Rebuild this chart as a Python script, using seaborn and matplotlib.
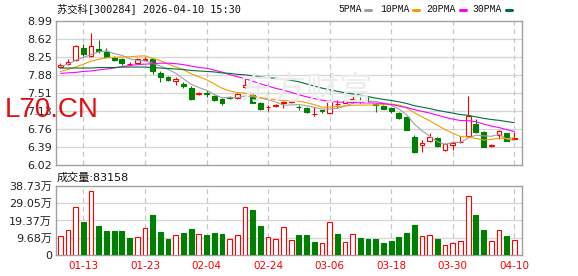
import numpy as np
import pandas as pd
import matplotlib
matplotlib.use("Agg")
import matplotlib.pyplot as plt
import seaborn as sns

# ---------------- data ----------------
dates = ["01-08", "01-09", "01-12", "01-13", "01-14", "01-15", "01-16", "01-19", "01-20", "01-21",
         "01-22", "01-23", "01-26", "01-27", "01-28", "01-29", "01-30", "02-02", "02-03", "02-04",
         "02-05", "02-06", "02-09", "02-10", "02-11", "02-12", "02-13", "02-24", "02-25", "02-26",
         "02-27", "03-02", "03-03", "03-04", "03-05", "03-06", "03-09", "03-10", "03-11", "03-12",
         "03-13", "03-16", "03-17", "03-18", "03-19", "03-20", "03-23", "03-24", "03-25", "03-26",
         "03-27", "03-30", "03-31", "04-01", "04-02", "04-03", "04-07", "04-08", "04-09", "04-10"]

open_ = [8.05, 8.11, 8.18, 8.44, 8.27, 8.41, 8.36, 8.23, 8.20, 8.10, 8.13, 8.19, 8.20, 7.91, 7.84,
         7.75, 7.70, 7.61, 7.48, 7.50, 7.45, 7.38, 7.42, 7.41, 7.63, 7.47, 7.29, 7.21, 7.24, 7.30,
         7.31, 7.22, 7.20, 7.07, 7.15, 7.10, 7.27, 7.30, 7.33, 7.37, 7.34, 7.28, 7.24, 7.20, 7.10,
         7.01, 6.60, 6.43, 6.52, 6.57, 6.32, 6.43, 6.49, 6.62, 6.87, 6.71, 6.41, 6.63, 6.67, 6.56]
close = [8.09, 8.14, 8.47, 8.31, 8.47, 8.37, 8.25, 8.19, 8.13, 8.11, 8.20, 8.21, 7.95, 7.84, 7.77,
         7.79, 7.64, 7.38, 7.51, 7.49, 7.36, 7.30, 7.41, 7.48, 7.66, 7.30, 7.17, 7.22, 7.25, 7.32,
         7.33, 7.21, 7.11, 7.08, 7.13, 7.35, 7.28, 7.33, 7.38, 7.36, 7.33, 7.25, 7.18, 7.14, 6.98,
         6.74, 6.29, 6.48, 6.59, 6.41, 6.46, 6.48, 6.50, 7.03, 6.70, 6.40, 6.43, 6.72, 6.52, 6.58]
high = [8.12, 8.20, 8.49, 8.52, 8.74, 8.60, 8.43, 8.27, 8.23, 8.15, 8.22, 8.24, 8.22, 7.95, 7.86,
        7.84, 7.74, 7.64, 7.53, 7.57, 7.46, 7.40, 7.44, 7.50, 7.82, 7.49, 7.31, 7.26, 7.28, 7.33,
        7.35, 7.26, 7.22, 7.21, 7.16, 7.37, 7.36, 7.34, 7.44, 7.43, 7.43, 7.29, 7.25, 7.22, 7.12,
        7.04, 6.64, 6.53, 6.67, 6.60, 6.48, 6.52, 6.62, 7.44, 6.96, 6.73, 6.45, 6.74, 6.68, 6.71]
low = [8.02, 8.09, 8.16, 8.27, 8.25, 8.34, 8.24, 8.17, 8.09, 8.08, 8.12, 8.16, 7.89, 7.74, 7.76,
       7.66, 7.60, 7.36, 7.47, 7.43, 7.35, 7.26, 7.39, 7.39, 7.61, 7.29, 7.16, 7.14, 7.22, 7.19,
       7.30, 7.15, 7.09, 7.03, 7.10, 7.08, 7.19, 7.29, 7.29, 7.30, 7.32, 7.12, 7.17, 7.10, 6.96,
       6.74, 6.27, 6.29, 6.50, 6.39, 6.31, 6.33, 6.48, 6.60, 6.69, 6.39, 6.39, 6.56, 6.51, 6.55]
volume_wan = [10.8, 14.2, 26.8, 18.6, 35.9, 16.4, 13.6, 13.6, 13.6, 9.7,
              10.1, 15.1, 22.5, 13.0, 9.1, 11.2, 12.5, 14.7, 11.7, 11.2,
              12.5, 11.9, 8.9, 11.2, 26.8, 25.3, 16.4, 10.1, 9.1, 15.6,
              8.6, 11.4, 11.4, 7.4, 6.7, 18.6, 11.9, 7.4, 11.9, 9.7,
              9.1, 8.75, 6.9, 8.0, 10.2, 12.5, 16.9, 10.8, 11.2, 8.75,
              5.6, 6.9, 8.0, 33.1, 22.5, 14.3, 8.0, 14.15, 10.8, 8.3158]

# moving-average values before enough history is visible
ma5_head = [8.05, 8.10, 8.18, 8.24]
ma10_head = [7.95, 7.99, 8.04, 8.10, 8.16, 8.20, 8.23, 8.24, 8.25]
ma20_head = [7.91, 7.92, 7.93, 7.95, 7.96, 7.98, 8.00, 8.02, 8.05, 8.07, 8.09, 8.10, 8.11, 8.12,
             8.12, 8.11, 8.09, 8.06, 8.03]
ma30_head = [8.02, 8.02, 8.02, 8.02, 8.02, 8.03, 8.03, 8.03, 8.04, 8.04, 8.04, 8.04, 8.03, 8.02,
             8.01, 8.00, 7.99, 7.97, 7.96, 7.95, 7.94, 7.92, 7.91, 7.89, 7.88, 7.86, 7.84, 7.82, 7.81]

price_ticks = [6.02, 6.39, 6.76, 7.13, 7.51, 7.88, 8.25, 8.62, 8.99]
vol_ticks = [0, 9.68, 19.37, 29.05, 38.73]
vol_tick_labels = ["0", "9.68万", "19.37万", "29.05万", "38.73万"]
x_tick_dates = ["01-13", "01-23", "02-04", "02-24", "03-06", "03-18", "03-30", "04-10"]

title = "苏交科[300284] 2026-04-10 15:30"
vol_title = "成交量:83158"
ma_names = ["5PMA", "10PMA", "20PMA", "30PMA"]

# ---------------- styling ----------------
RED = "#ff0000"
GREEN = "#008000"
MA_COLORS = ["#a0a0a0", "#f0a000", "#ff00ff", "#00703c"]
GRID = "#d6d6d6"
SPINE = "#a0a0a0"

sns.set_theme(style="white")
plt.rcParams["font.family"] = ["DejaVu Sans", "Noto Sans CJK SC"]

W, H = 578, 276
fig = plt.figure(figsize=(W / 100, H / 100), dpi=100)
fig.patch.set_facecolor("white")


def rect(l, t, r, b):
    return [l / W, 1 - b / H, (r - l) / W, (b - t) / H]


axp = fig.add_axes(rect(56, 21, 522, 165))
axv = fig.add_axes(rect(56, 186, 522, 255))

n = len(dates)
df = pd.DataFrame({"idx": np.arange(n), "date": dates, "open": open_, "close": close,
                   "high": high, "low": low, "vol": volume_wan})
df["up"] = df["close"] >= df["open"]
prev = df["close"].shift(1).fillna(df["open"])
df["vol_up"] = df["close"] >= prev


def ma(period, head):
    m = df["close"].rolling(period).mean().to_numpy()
    m[: len(head)] = head
    return m


for p, h in zip([5, 10, 20, 30], [ma5_head, ma10_head, ma20_head, ma30_head]):
    df[f"ma{p}"] = ma(p, h)

XL = (-0.56, n + 0.0)

# watermark
fig.text(240 / W, 1 - 90 / H, "东方财富", color="#ececec", fontsize=24,
         family=["Noto Sans CJK SC"], va="center", ha="left", zorder=0)

# ---------------- price panel ----------------
for k in range(n):
    r = df.iloc[k]
    col = RED if r.up else GREEN
    lo_b, hi_b = min(r.open, r.close), max(r.open, r.close)
    axp.vlines(k, hi_b, r.high, colors=col, linewidth=0.8, zorder=3)
    axp.vlines(k, r.low, lo_b, colors=col, linewidth=0.8, zorder=3)
hgt = np.maximum(np.abs(df["close"] - df["open"]), 0.004)
bot = np.minimum(df["open"], df["close"])
axp.bar(df["idx"], hgt, bottom=bot, width=0.62,
        facecolor=np.where(df["up"], "white", GREEN),
        edgecolor=np.where(df["up"], RED, GREEN), linewidth=0.8, zorder=4)

for p, c in zip([5, 10, 20, 30], MA_COLORS):
    sns.lineplot(data=df, x="idx", y=f"ma{p}", ax=axp, color=c, linewidth=0.8,
                 legend=False, zorder=5)

axp.set_xlim(*XL)
axp.set_ylim(6.02, 8.99)
axp.set_yticks(price_ticks)
axp.set_yticklabels([f"{v:.2f}" for v in price_ticks])
axp.set_xticks([])
axp.set_xlabel("")
axp.set_ylabel("")
axp.grid(False)
for v in price_ticks[1:-1]:
    axp.axhline(v, color=GRID, linewidth=0.9, zorder=1)

tick_idx = [dates.index(d) for d in x_tick_dates]
for t in tick_idx:
    axp.axvline(t, color="#c8c8c8", linewidth=0.9, linestyle=(0, (4, 3)), zorder=1)
    axv.axvline(t, color="#c8c8c8", linewidth=0.9, linestyle=(0, (4, 3)), zorder=1)

# ---------------- volume panel ----------------
sns.barplot(data=df, x="idx", y="vol", native_scale=True, width=0.62, ax=axv,
            color=RED, errorbar=None, zorder=3)
for patch, upv in zip(axv.patches, df["vol_up"]):
    if upv:
        patch.set_facecolor("white")
        patch.set_edgecolor(RED)
    else:
        patch.set_facecolor(GREEN)
        patch.set_edgecolor(GREEN)
    patch.set_linewidth(0.8)

axv.set_xlim(*XL)
axv.set_ylim(0, 38.73)
axv.set_yticks(vol_ticks)
axv.set_yticklabels(vol_tick_labels)
axv.set_xticks(tick_idx)
axv.set_xticklabels(x_tick_dates)
axv.set_xlabel("")
axv.set_ylabel("")
axv.grid(False)
for v in vol_ticks[1:-1]:
    axv.axhline(v, color=GRID, linewidth=0.9, zorder=1)

for ax in (axp, axv):
    ax.set_facecolor("white")
    for s in ax.spines.values():
        s.set_visible(True)
        s.set_color(SPINE)
        s.set_linewidth(1.0)
    ax.tick_params(axis="both", length=0, pad=3, labelsize=8, colors="#222222")

axv.tick_params(axis="x", colors=RED, labelsize=7.5, pad=4)
for lab in axv.get_yticklabels():
    lab.set_fontfamily(["DejaVu Sans", "Noto Sans CJK SC"])

# ---------------- texts ----------------
fig.text(57 / W, 1 - 9 / H, title, fontsize=7.4, color="#111111", va="center", ha="left",
         family=["DejaVu Sans Mono", "Noto Sans CJK SC"])
fig.text(57 / W, 1 - 178 / H, vol_title, fontsize=8, color="#111111", va="center", ha="left",
         family=["DejaVu Sans", "Noto Sans CJK SC"])

leg_x = [338, 380, 426, 472]
mark_x = [365, 413, 460, 506]
for name, lx, mx, c in zip(ma_names, leg_x, mark_x, MA_COLORS):
    fig.text(lx / W, 1 - 9 / H, name, fontsize=7, family="Liberation Mono",
             color="#111111", va="center", ha="left")
    fig.add_artist(plt.Line2D([mx / W, (mx + 6) / W], [1 - 9.5 / H, 1 - 9.5 / H],
                              color=c, linewidth=2.2, transform=fig.transFigure))

fig.text(5 / W, 1 - 116.7 / H, "L70.CN", fontsize=20, color="#e01010",
         family="Liberation Sans", va="baseline", ha="left", zorder=10)

fig.savefig("out.png", dpi=100, facecolor="white")
